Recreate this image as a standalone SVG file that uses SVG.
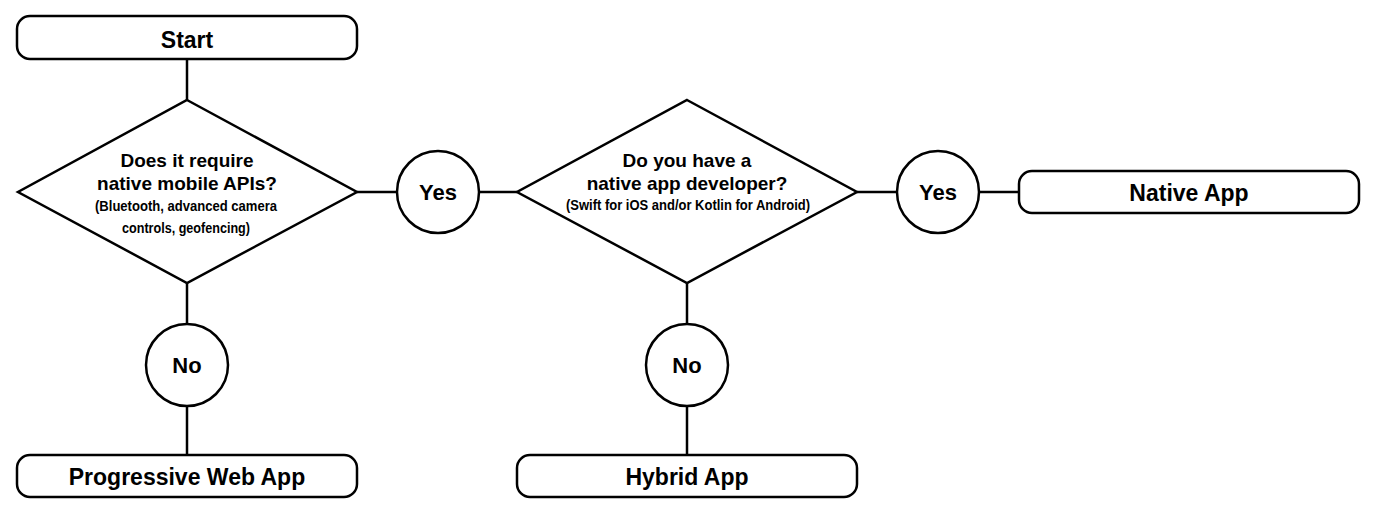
<svg xmlns="http://www.w3.org/2000/svg" width="1376" height="514" viewBox="0 0 1376 514">
<style>
.shape{fill:#fff;stroke:#000;stroke-width:2.5}
.conn{stroke:#000;stroke-width:2.5;fill:none}
text{font-family:"Liberation Sans",Arial,Helvetica,sans-serif;font-weight:bold;fill:#000;text-anchor:middle}
.big{font-size:23px}
.mid{font-size:19px}
.small{font-size:15px}
.circ{font-size:22px}
</style>
<rect width="1376" height="514" fill="#fff"/>
<g id="connectors">
<line class="conn" x1="187" y1="59" x2="187" y2="100"/>
<line class="conn" x1="187" y1="283" x2="187" y2="324"/>
<line class="conn" x1="187" y1="406" x2="187" y2="455"/>
<line class="conn" x1="357" y1="192" x2="397" y2="192"/>
<line class="conn" x1="479" y1="192" x2="517" y2="192"/>
<line class="conn" x1="857" y1="192" x2="897" y2="192"/>
<line class="conn" x1="979" y1="192" x2="1019" y2="192"/>
<line class="conn" x1="687" y1="283" x2="687" y2="324"/>
<line class="conn" x1="687" y1="406" x2="687" y2="455"/>
</g>
<g id="start">
<rect class="shape" x="17" y="16" width="340" height="43" rx="13"/>
<text class="big" x="187" y="48">Start</text>
</g>
<g id="decision1">
<polygon class="shape" points="187,100 357,192 187,283 18,192"/>
<text class="mid" x="187" y="167">Does it require</text>
<text class="mid" x="187" y="190">native mobile APIs?</text>
<text class="small" x="186" y="211" textLength="182" lengthAdjust="spacingAndGlyphs">(Bluetooth, advanced camera</text>
<text class="small" x="186" y="233" textLength="128" lengthAdjust="spacingAndGlyphs">controls, geofencing)</text>
</g>
<g id="yes1">
<circle class="shape" cx="438" cy="192" r="41"/>
<text class="circ" x="438" y="200">Yes</text>
</g>
<g id="decision2">
<polygon class="shape" points="687,100 857,192 687,283 517,192"/>
<text class="mid" x="687" y="167">Do you have a</text>
<text class="mid" x="687" y="190">native app developer?</text>
<text class="small" x="688" y="210" textLength="244" lengthAdjust="spacingAndGlyphs">(Swift for iOS and/or Kotlin for Android)</text>
</g>
<g id="yes2">
<circle class="shape" cx="938" cy="192" r="41"/>
<text class="circ" x="938" y="200">Yes</text>
</g>
<g id="native">
<rect class="shape" x="1019" y="171" width="340" height="42" rx="13"/>
<text class="big" x="1189" y="201">Native App</text>
</g>
<g id="no1">
<circle class="shape" cx="187" cy="365" r="41"/>
<text class="circ" x="187" y="373">No</text>
</g>
<g id="pwa">
<rect class="shape" x="17" y="455" width="340" height="42" rx="13"/>
<text class="big" x="187" y="485">Progressive Web App</text>
</g>
<g id="no2">
<circle class="shape" cx="687" cy="365" r="41"/>
<text class="circ" x="687" y="373">No</text>
</g>
<g id="hybrid">
<rect class="shape" x="517" y="455" width="340" height="42" rx="13"/>
<text class="big" x="687" y="485">Hybrid App</text>
</g>
</svg>
